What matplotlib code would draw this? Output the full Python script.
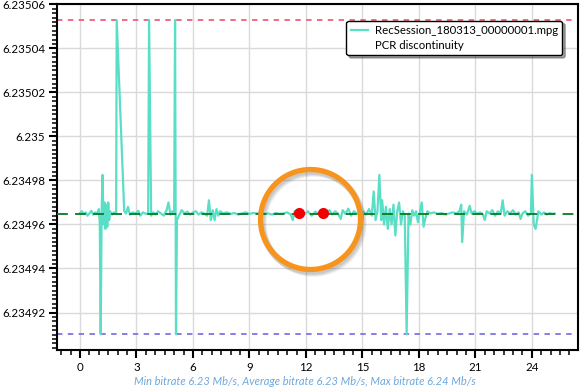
import matplotlib.pyplot as plt
from matplotlib.ticker import MultipleLocator, FuncFormatter
from matplotlib.lines import Line2D
import matplotlib.transforms as mtransforms

# bitrate samples (time in s, bitrate in Mb/s)
t = [0.00, 0.10, 0.20, 0.30, 0.40, 0.50, 0.60, 0.70, 0.80, 0.90,
     1.00, 1.05, 1.10, 1.15, 1.20, 1.25, 1.30, 1.35, 1.40, 1.45,
     1.50, 1.55, 1.60, 1.70, 1.80, 1.92, 1.95, 2.35, 2.45, 2.55,
     2.65, 2.80, 2.95, 3.10, 3.20, 3.35, 3.50, 3.62, 3.67, 3.78,
     3.90, 4.00, 4.15, 4.30, 4.45, 4.60, 4.70, 4.80, 4.90, 5.00,
     5.05, 5.10, 5.15, 5.25, 5.40, 5.55, 5.70, 5.85, 6.00, 6.15,
     6.30, 6.45, 6.60, 6.75, 6.85, 6.95, 7.05, 7.15, 7.25, 7.35,
     7.45, 7.60, 7.80, 8.00, 8.20, 8.40, 8.60, 8.80, 9.00, 9.20,
     9.40, 9.60, 9.80, 10.00, 10.20, 10.40, 10.60, 10.80, 11.00, 11.20,
     11.30, 11.40, 11.55, 11.70, 11.90, 12.10, 12.30, 12.50, 12.70, 12.90,
     13.10, 13.25, 13.40, 13.55, 13.70, 13.85, 13.95, 14.10, 14.25, 14.40,
     14.55, 14.70, 14.85, 14.95, 15.05, 15.20, 15.35, 15.50, 15.60, 15.70,
     15.80, 15.90, 16.00, 16.05, 16.15, 16.25, 16.35, 16.45, 16.55, 16.65,
     16.75, 16.85, 16.95, 17.05, 17.15, 17.25, 17.35, 17.45, 17.55, 17.65,
     17.75, 17.85, 17.95, 18.05, 18.15, 18.25, 18.35, 18.45, 18.60, 18.80,
     19.00, 19.20, 19.40, 19.60, 19.80, 20.00, 20.15, 20.25, 20.30, 20.40,
     20.55, 20.70, 20.80, 20.95, 21.10, 21.25, 21.40, 21.50, 21.60, 21.75,
     21.90, 22.05, 22.20, 22.35, 22.45, 22.55, 22.70, 22.85, 23.00, 23.15,
     23.30, 23.40, 23.50, 23.65, 23.80, 23.95, 24.00, 24.10, 24.20, 24.35,
     24.50, 24.65, 24.80, 24.95, 25.10, 25.20]
bitrate = [6.2349652, 6.2349660, 6.2349648, 6.2349655, 6.2349640, 6.2349650, 6.2349662, 6.2349645, 6.2349655, 6.2349648,
           6.2349670, 6.2349610, 6.2349101, 6.2349660, 6.2349825, 6.2349600, 6.2349700, 6.2349580, 6.2349690, 6.2349590,
           6.2349700, 6.2349620, 6.2349660, 6.2349645, 6.2349655, 6.2349650, 6.2350529, 6.2349660, 6.2349650, 6.2349680,
           6.2349645, 6.2349655, 6.2349650, 6.2349662, 6.2349640, 6.2349655, 6.2349648, 6.2349650, 6.2350529, 6.2349640,
           6.2349655, 6.2349645, 6.2349660, 6.2349650, 6.2349640, 6.2349665, 6.2349700, 6.2349645, 6.2349660, 6.2349650,
           6.2350529, 6.2349101, 6.2349620, 6.2349640, 6.2349665, 6.2349650, 6.2349658, 6.2349645, 6.2349655, 6.2349660,
           6.2349645, 6.2349655, 6.2349650, 6.2349640, 6.2349710, 6.2349620, 6.2349665, 6.2349620, 6.2349670, 6.2349640,
           6.2349660, 6.2349650, 6.2349655, 6.2349648, 6.2349652, 6.2349645, 6.2349650, 6.2349655, 6.2349648, 6.2349652,
           6.2349650, 6.2349655, 6.2349648, 6.2349650, 6.2349645, 6.2349652, 6.2349648, 6.2349650, 6.2349655, 6.2349645,
           6.2349620, 6.2349660, 6.2349650, 6.2349652, 6.2349645, 6.2349660, 6.2349640, 6.2349658, 6.2349648, 6.2349650,
           6.2349640, 6.2349665, 6.2349645, 6.2349660, 6.2349650, 6.2349625, 6.2349665, 6.2349648, 6.2349672, 6.2349640,
           6.2349660, 6.2349650, 6.2349645, 6.2349580, 6.2349660, 6.2349645, 6.2349670, 6.2349640, 6.2349750, 6.2349620,
           6.2349660, 6.2349825, 6.2349620, 6.2349710, 6.2349600, 6.2349680, 6.2349580, 6.2349670, 6.2349600, 6.2349690,
           6.2349550, 6.2349660, 6.2349700, 6.2349600, 6.2349660, 6.2349640, 6.2349101, 6.2349650, 6.2349600, 6.2349665,
           6.2349640, 6.2349660, 6.2349610, 6.2349655, 6.2349700, 6.2349590, 6.2349630, 6.2349660, 6.2349650, 6.2349655,
           6.2349648, 6.2349652, 6.2349645, 6.2349650, 6.2349655, 6.2349650, 6.2349660, 6.2349690, 6.2349520, 6.2349660,
           6.2349645, 6.2349685, 6.2349650, 6.2349660, 6.2349648, 6.2349655, 6.2349645, 6.2349620, 6.2349660, 6.2349650,
           6.2349665, 6.2349640, 6.2349660, 6.2349650, 6.2349710, 6.2349640, 6.2349660, 6.2349650, 6.2349665, 6.2349645,
           6.2349655, 6.2349625, 6.2349650, 6.2349660, 6.2349640, 6.2349650, 6.2349825, 6.2349600, 6.2349580, 6.2349660,
           6.2349645, 6.2349655, 6.2349645, 6.2349652, 6.2349648, 6.2349650]

min_rate = 6.2349101
avg_rate = 6.2349649
max_rate = 6.2350529

# PCR discontinuities
pcr_t = [11.65, 12.9]
pcr_rate = [6.2349650, 6.2349650]

# highlight ring
ring_t = 12.22
ring_rate = 6.2349627

series_name = 'RecSession_180313_00000001.mpg'
footer = 'Min bitrate 6.23 Mb/s, Average bitrate 6.23 Mb/s, Max bitrate 6.24 Mb/s'

plt.rcParams['font.family'] = ['Lato', 'DejaVu Sans']

fig = plt.figure(figsize=(5.86, 3.91), dpi=100)
ax = fig.add_axes([0.0973, 0.105, 0.889, 0.885])

ax.plot(t, bitrate, color='#5BDEC6', lw=1.6, zorder=3, label=series_name)
ax.axhline(max_rate, color='#F0607A', lw=1.3, ls=(0, (3, 3)), zorder=2)
ax.axhline(min_rate, color='#7B74E6', lw=1.3, ls=(0, (3, 3)), zorder=2)
ax.axhline(avg_rate, color='#0A7A1E', lw=1.3, ls=(0, (6, 4)), zorder=4)

# ring with soft shadow
for dx, dy, a in [(3, -4, 0.10), (2, -3, 0.12), (1, -2, 0.12)]:
    tr = mtransforms.offset_copy(ax.transData, fig=fig, x=dx, y=dy, units='dots')
    ax.plot([ring_t], [ring_rate], marker='o', ms=72, mfc='none', mec='#555555',
            mew=4.5, alpha=a, transform=tr, zorder=5)
ax.plot([ring_t], [ring_rate], marker='o', ms=72, mfc='none', mec='#F7941D', mew=3.8, zorder=6)

ax.plot(pcr_t, pcr_rate, 'o', color='#F00000', ms=7, zorder=7)

ax.set_xlim(-1.22, 26.45)
ax.set_ylim(6.234903, 6.2350602)

ax.xaxis.set_major_locator(MultipleLocator(3))
ax.xaxis.set_minor_locator(MultipleLocator(0.5))
ax.yaxis.set_major_locator(MultipleLocator(0.00002))
ax.yaxis.set_minor_locator(MultipleLocator(0.000002))
ax.yaxis.set_major_formatter(FuncFormatter(lambda v, p: '%g' % round(v, 5)))

ax.grid(True, which='major', color='#DADADA', lw=1)
ax.set_axisbelow(True)
ax.tick_params(which='major', length=6, width=1.5, labelsize=8.3, colors='black', pad=2.5)
ax.tick_params(which='minor', length=3.5, width=1.1)
for s in ax.spines.values():
    s.set_linewidth(1.5)

handles = [Line2D([], [], color='#5BDEC6', lw=1.6),
           Line2D([], [], color='none')]
leg = ax.legend(handles, [series_name, 'PCR discontinuity'], loc='upper right',
                bbox_to_anchor=(0.981, 0.968), fontsize=8.2, frameon=True,
                fancybox=True, shadow=True, handlelength=1.5, handletextpad=0.6,
                borderpad=0.4, labelspacing=0.3)
leg.get_frame().set_edgecolor('black')
leg.get_frame().set_linewidth(1.0)
leg.set_zorder(10)

fig.text(0.52, 0.024, footer, ha='center', va='center', fontsize=8,
         style='italic', color='#6FA8DC')

fig.savefig('out.png', dpi=100)
